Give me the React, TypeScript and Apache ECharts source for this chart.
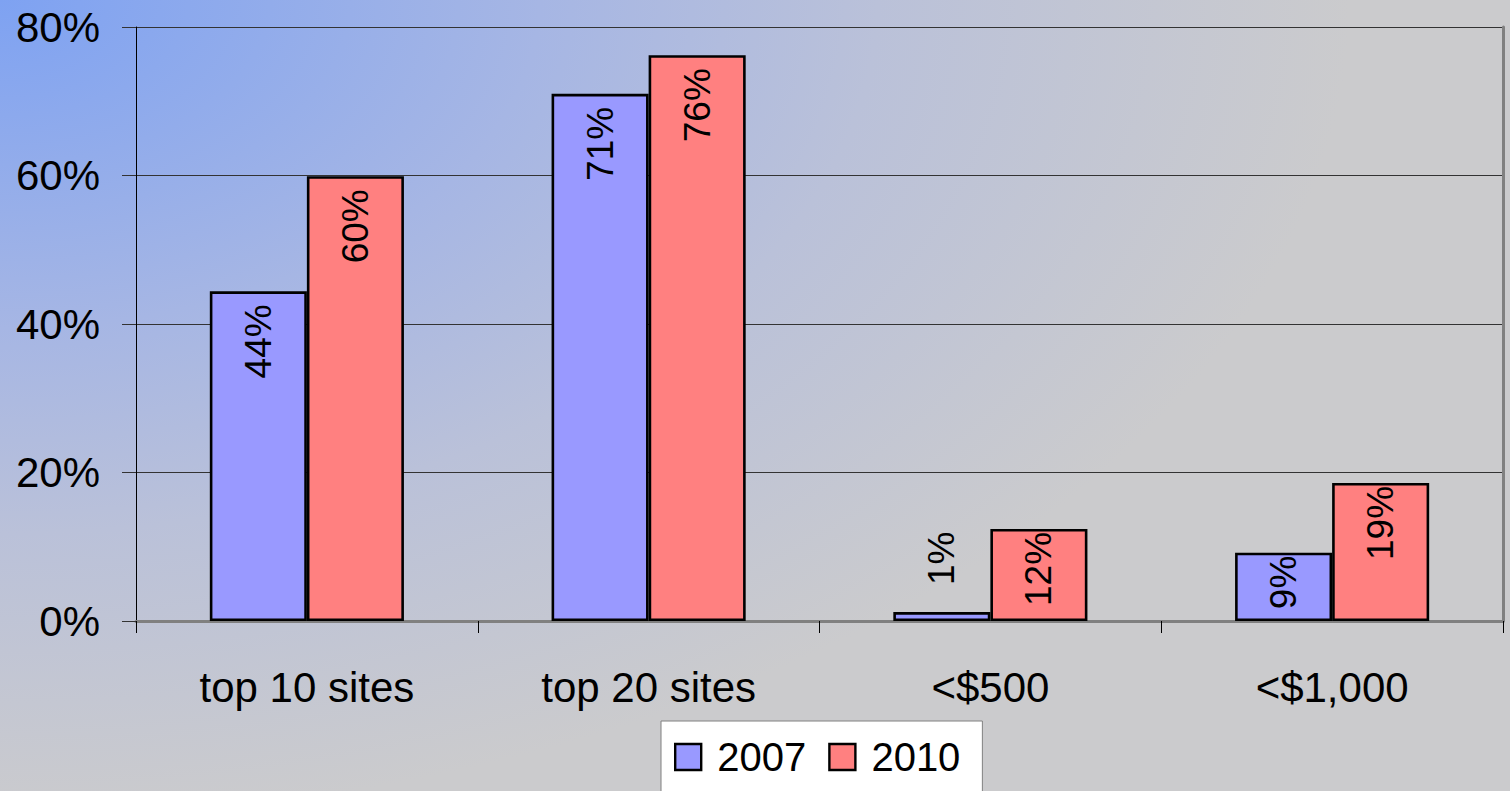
import React, { useEffect, useRef } from 'react';
import * as echarts from 'echarts';

const categories = ['top 10 sites', 'top 20 sites', '<$500', '<$1,000'];
const seriesNames = ['2007', '2010'];
const values2007 = [44.4, 71.0, 1.2, 9.2];
const values2010 = [59.9, 76.2, 12.4, 18.6];
const yTickLabels = ['0%', '20%', '40%', '60%', '80%'];

const FONT = "'Liberation Sans', Arial, Helvetica, sans-serif";
const COLORS = ['#9999ff', '#ff8080'];

function makeData(values: number[]) {
  return values.map((v) => {
    if (v < 5) {
      return {
        value: v,
        label: { position: 'top', align: 'left', distance: 27 },
      };
    }
    if (v < 25) {
      return { value: v, label: { distance: 3 } };
    }
    return { value: v };
  });
}

export default function App() {
  const ref = useRef<HTMLDivElement>(null);

  useEffect(() => {
    document.body.style.margin = '0';
    if (!ref.current) return;
    const chart = echarts.init(ref.current, undefined, { renderer: 'svg' });

    const labelBase = {
      show: true,
      rotate: 90,
      position: 'insideTop',
      align: 'right',
      verticalAlign: 'middle',
      distance: 13,
      fontSize: 37,
      fontFamily: FONT,
      color: '#000',
      formatter: (p: any) => Math.round(p.value) + '%',
    };

    const allSeries = [values2007, values2010].map((vals, i) => ({
      name: seriesNames[i],
      type: 'bar',
      barWidth: '28.4%',
      barGap: '0%',
      itemStyle: { color: COLORS[i], borderColor: '#000', borderWidth: 2.6 },
      label: labelBase,
      data: makeData(vals),
    }));

    chart.setOption({
      animation: false,
      textStyle: { fontFamily: FONT },
      grid: { left: 136, right: 7, top: 27, bottom: 170, containLabel: false },
      legend: {
        data: seriesNames,
        left: 661,
        top: 721,
        orient: 'horizontal',
        icon: 'rect',
        itemWidth: 26,
        itemHeight: 26,
        itemGap: 22,
        padding: [16, 22, 40, 13],
        backgroundColor: '#ffffff',
        borderColor: '#808080',
        borderWidth: 1,
        itemStyle: { borderColor: '#000', borderWidth: 2.4 },
        textStyle: { fontSize: 40, fontFamily: FONT, color: '#000', padding: [0, 0, 0, 11] },
      },
      xAxis: [
        {
          type: 'category',
          data: categories,
          boundaryGap: true,
          axisLine: { show: true, lineStyle: { color: '#333', width: 1 } },
          axisTick: { show: true, length: 12, lineStyle: { color: '#000', width: 1 } },
          axisLabel: { fontSize: 42, fontFamily: FONT, color: '#000', margin: 45 },
          splitLine: { show: false },
        },
        {
          type: 'category',
          data: categories,
          position: 'top',
          axisLine: { show: true, lineStyle: { color: '#808080', width: 3 } },
          axisTick: { show: false },
          axisLabel: { show: false },
          splitLine: { show: false },
        },
      ],
      yAxis: [
        {
          type: 'value',
          min: 0,
          max: 80,
          interval: 20,
          axisLine: { show: true, lineStyle: { color: '#000', width: 1 } },
          axisTick: { show: true, length: 14, lineStyle: { color: '#333', width: 1 } },
          axisLabel: {
            fontSize: 42,
            fontFamily: FONT,
            color: '#000',
            margin: 36,
            formatter: (v: number) => yTickLabels[Math.round(v / 20)] ?? v + '%',
          },
          splitLine: { show: true, lineStyle: { color: '#333', width: 1 } },
        },
        {
          type: 'value',
          min: 0,
          max: 80,
          interval: 20,
          position: 'right',
          axisLine: { show: true, lineStyle: { color: '#808080', width: 3 } },
          axisTick: { show: false },
          axisLabel: { show: false },
          splitLine: { show: false },
        },
      ],
      series: allSeries,
    });

    return () => chart.dispose();
  }, []);

  return (
    <div
      ref={ref}
      style={{
        position: 'absolute',
        left: 0,
        top: 0,
        width: 1510,
        height: 791,
        background:
          'radial-gradient(ellipse 1350px 820px at 0px 0px, #7ea2f2 0%, #a6b6e4 40%, #bac1d9 65%, #cbcbcd 100%)',
      }}
    />
  );
}
